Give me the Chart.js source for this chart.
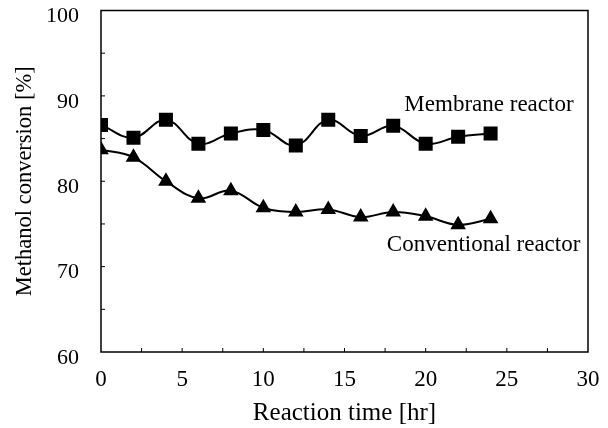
<!DOCTYPE html>
<html>
<head>
    <meta charset="utf-8" />
    <title>Methanol conversion</title>
    <script src="https://cdn.jsdelivr.net/npm/chart.js@4/dist/chart.umd.min.js"></script>
    <style>
        body, html {
            background: white;
            margin: 0;
            padding: 0;
            overflow: hidden;
        }
        #chartContainer {
            width: 608px;
            height: 428px;
        }
    </style>
</head>
<body>
    <div id="chartContainer">
        <canvas id="myChart" width="608" height="428"></canvas>
    </div>

    <script>
        // reaction time [hr]
        const times = [0, 2, 4, 6, 8, 10, 12, 14, 16, 18, 20, 22, 24];
        // methanol conversion [%]
        const membrane = [86.6, 85.1, 87.2, 84.4, 85.6, 86.0, 84.2, 87.2, 85.3, 86.5, 84.4, 85.2, 85.6];
        const conventional = [83.7, 82.8, 80.0, 78.0, 78.9, 76.9, 76.4, 76.7, 75.8, 76.4, 75.9, 74.9, 75.6];

        const xTicks = [0, 5, 10, 15, 20, 25, 30];
        const yTicks = [60, 70, 80, 90, 100];

        const seriesLabels = [
            { text: 'Membrane reactor', x: 23.9, y: 88.9 },
            { text: 'Conventional reactor', x: 23.57, y: 72.5 }
        ];

        const serif = "'Liberation Serif', 'DejaVu Serif', serif";

        // frame around the plot + small inward ticks + series labels
        const framePlugin = {
            id: 'frame',
            afterDraw(chart) {
                const { ctx, chartArea: a, scales } = chart;
                ctx.save();
                ctx.strokeStyle = '#000';
                ctx.lineWidth = 1.5;
                ctx.strokeRect(a.left, a.top, a.right - a.left, a.bottom - a.top);

                ctx.lineWidth = 1;
                ctx.beginPath();
                for (let v = 2.5; v < 30; v += 2.5) {
                    const px = scales.x.getPixelForValue(v);
                    ctx.moveTo(px, a.bottom);
                    ctx.lineTo(px, a.bottom - 4);
                }
                for (let v = 65; v < 100; v += 5) {
                    const py = scales.y.getPixelForValue(v);
                    ctx.moveTo(a.left, py);
                    ctx.lineTo(a.left + 4, py);
                }
                ctx.stroke();

                ctx.fillStyle = '#000';
                ctx.font = '23px ' + serif;
                ctx.textAlign = 'center';
                ctx.textBaseline = 'middle';
                seriesLabels.forEach(l => {
                    ctx.fillText(l.text, scales.x.getPixelForValue(l.x), scales.y.getPixelForValue(l.y));
                });
                ctx.restore();
            }
        };

        function renderChart()
        {
            const toPts = vals => times.map((t, i) => ({ x: t, y: vals[i] }));

            const config = {
                type: 'line',
                data: {
                    datasets: [{
                        label: 'Membrane reactor',
                        data: toPts(membrane),
                        borderColor: '#000',
                        backgroundColor: '#000',
                        borderWidth: 2,
                        pointStyle: 'rect',
                        pointRadius: 8.5,
                        tension: 0.4,
                        fill: false
                    }, {
                        label: 'Conventional reactor',
                        data: toPts(conventional),
                        borderColor: '#000',
                        backgroundColor: '#000',
                        borderWidth: 2,
                        pointStyle: 'triangle',
                        pointRadius: 7,
                        tension: 0.4,
                        fill: false
                    }]
                },
                options: {
                    responsive: false,
                    animation: false,
                    layout: { padding: { left: 0, right: 20, top: 10, bottom: 0 } },
                    scales: {
                        x: {
                            type: 'linear',
                            min: 0, max: 30,
                            afterBuildTicks: s => { s.ticks = xTicks.map(v => ({ value: v })); },
                            afterFit: s => { s.height = 76; s.paddingLeft = 0; s.paddingRight = 0; },
                            grid: { display: false, drawTicks: false },
                            border: { display: false },
                            ticks: { color: '#000', font: { family: serif, size: 23 }, padding: 14, maxRotation: 0 },
                            title: { display: true, text: 'Reaction time [hr]', color: '#000', font: { family: serif, size: 25 }, padding: { top: 0, bottom: 0 } }
                        },
                        y: {
                            min: 60, max: 100,
                            afterBuildTicks: s => { s.ticks = yTicks.map(v => ({ value: v })); },
                            afterFit: s => { s.width = 101; s.paddingTop = 0; s.paddingBottom = 0; },
                            grid: { display: false, drawTicks: false },
                            border: { display: false },
                            ticks: { color: '#000', font: { family: serif, size: 22 }, padding: 22, labelOffset: 6 },
                            title: { display: true, text: 'Methanol conversion [%]', color: '#000', font: { family: serif, size: 22.5 }, padding: { top: 11.5, bottom: 0 } }
                        }
                    },
                    plugins: {
                        legend: { display: false },
                        tooltip: { enabled: false }
                    }
                },
                plugins: [framePlugin]
            };

            new Chart(document.getElementById('myChart').getContext('2d'), config);
        }
        window.addEventListener('DOMContentLoaded', renderChart);
    </script>
</body>
</html>
